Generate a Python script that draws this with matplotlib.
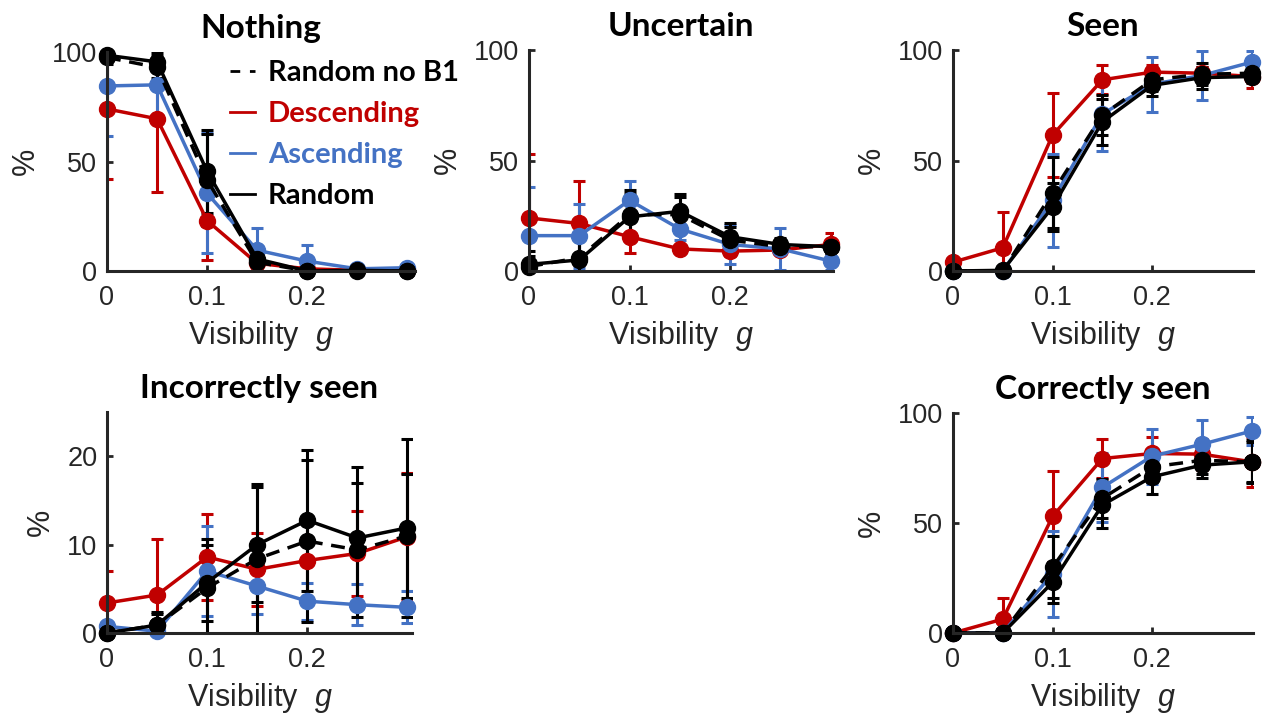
import numpy as np
import matplotlib
matplotlib.use("Agg")
import matplotlib.pyplot as plt
from matplotlib.lines import Line2D

plt.rcParams['font.family'] = ['Liberation Sans', 'DejaVu Sans']
plt.rcParams['mathtext.fontset'] = 'custom'
plt.rcParams['mathtext.it'] = 'Liberation Sans:italic'
plt.rcParams['mathtext.rm'] = 'Liberation Sans'

vis = [0, 0.05, 0.1, 0.15, 0.2, 0.25, 0.3]

# Nothing
nothing_desc = [74, 69.5, 23, 3.5, 1, 0.3, 0.3]
nothing_desc_err = [32, 33.5, 18, 2, 1, 0.5, 0.5]
nothing_asc = [84.5, 85, 35.5, 9.5, 4.5, 1, 1.5]
nothing_asc_err = [23, 16, 27.5, 10, 7.5, 1, 1]
nothing_rand = [98.5, 95.5, 45.5, 5.5, 0, 0.3, 0]
nothing_rand_err = [2.5, 4, 19, 3, 0.5, 0.5, 0]
nothing_nob1 = [97.5, 93, 41.5, 4, 0, 0, 0]
nothing_nob1_err = [3, 5, 21, 3, 0.5, 0.3, 0]

# Uncertain
uncert_desc = [24, 21.5, 15.5, 10, 9, 9.5, 12]
uncert_desc_err = [29, 19, 7.5, 1.5, 2, 2, 5]
uncert_asc = [16, 16, 32, 19, 12, 10, 4.5]
uncert_asc_err = [22, 14.5, 8.5, 5, 9, 9.5, 4]
uncert_rand = [3, 5, 24.5, 27, 15.5, 12, 11]
uncert_rand_err = [6, 10, 11, 8, 6, 3, 3]
uncert_nob1 = [2, 6, 25.5, 25.5, 14, 11, 11]
uncert_nob1_err = [5, 9, 11, 8, 6, 3, 3]

# Seen
seen_desc = [4, 10.5, 61.5, 86.5, 90, 89.5, 88]
seen_desc_err = [2, 16, 19, 6.5, 3, 3, 5]
seen_asc = [0, 0, 32, 71, 84.5, 88.5, 94.5]
seen_asc_err = [0, 0, 21, 16.5, 12.5, 11, 5]
seen_rand = [0, 0.3, 29, 67.5, 84, 87.5, 88]
seen_rand_err = [0, 0.5, 11, 10.5, 5, 5, 3]
seen_nob1 = [0, 0, 35.5, 70.5, 86.5, 89, 89.5]
seen_nob1_err = [0, 0, 16, 9, 5, 5, 3]

# Incorrectly seen
incor_desc = [3.4, 4.3, 8.6, 7.2, 8.2, 9.0, 10.9]
incor_desc_err = [3.6, 6.3, 4.9, 4.1, 4.4, 4.8, 7.2]
incor_asc = [0.75, 0.2, 7.0, 5.3, 3.6, 3.2, 2.9]
incor_asc_err = [0.5, 0.3, 5.1, 3.1, 2.1, 2.3, 1.8]
incor_rand = [0, 0.9, 5.7, 10, 12.75, 10.75, 11.9]
incor_rand_err = [0, 1.5, 4.3, 6.5, 8, 8, 10.1]
incor_nob1 = [0, 0.9, 5.1, 8.4, 10.4, 9.4, 11]
incor_nob1_err = [0, 1.2, 5.5, 8.5, 9.2, 7.6, 7]

# Correctly seen
cor_desc = [0, 6.3, 53, 79.3, 81.6, 81.3, 77.8]
cor_desc_err = [0, 9.6, 20.8, 9, 7.5, 7, 11.3]
cor_asc = [0, 0, 27, 66.2, 80.4, 85.8, 91.8]
cor_asc_err = [0, 0, 19.5, 15.6, 12.5, 11, 6.4]
cor_rand = [0, 0, 23, 58.2, 71, 76.3, 77.8]
cor_rand_err = [0, 0, 9.4, 10.6, 7.6, 6, 9.8]
cor_nob1 = [0, 0, 29.9, 61.2, 75.5, 78.5, 77.8]
cor_nob1_err = [0, 0, 14, 9, 7, 6, 9]

RED = '#C00000'
BLUE = '#4472C4'
BLK = '#000000'
AX_COL = '#262626'
TITLE_FONT = 'Lato'

W, H = 1263, 721
fig = plt.figure(figsize=(W / 100, H / 100), dpi=100)


def add_ax(x0, x1, y0, y1):
    # pixel box -> figure fraction
    return fig.add_axes([x0 / W, 1 - y1 / H, (x1 - x0) / W, (y1 - y0) / H])


def draw(ax, title, series, ylim, yticks, xmax):
    for y, e, c, ls in series:
        cont = ax.errorbar(vis, y, yerr=e, color=c, ls=ls, lw=2.5, marker='o', ms=11.5,
                           elinewidth=2.2, capsize=4, capthick=2.2)
        cont.lines[0].set_clip_on(False)
        if ls != '-':
            cont.lines[0].set_dashes((4, 2.5))
    ax.set_xlim(0, xmax)
    ax.set_ylim(*ylim)
    ax.set_xticks([0, 0.1, 0.2])
    ax.set_xticklabels(['0', '0.1', '0.2'])
    ax.set_yticks(yticks)
    for s in ['top', 'right']:
        ax.spines[s].set_visible(False)
    for s in ['left', 'bottom']:
        ax.spines[s].set_color(AX_COL)
        ax.spines[s].set_linewidth(2.2)
    ax.tick_params(direction='in', length=4, width=2, colors=AX_COL, labelsize=19.5)
    ax.tick_params(axis='x', pad=10)
    ax.tick_params(axis='y', pad=7)
    ax.set_xlabel('Visibility  $g$', fontsize=22, color=AX_COL, labelpad=6)
    ax.set_ylabel('%', fontsize=22, color=AX_COL, labelpad=8)
    ax.set_title(title, fontsize=24, fontweight='bold', family=TITLE_FONT, pad=10)


ax1 = add_ax(107, 415, 52, 271)
draw(ax1, 'Nothing', [(nothing_desc, nothing_desc_err, RED, '-'),
                      (nothing_asc, nothing_asc_err, BLUE, '-'),
                      (nothing_rand, nothing_rand_err, BLK, '-'),
                      (nothing_nob1, nothing_nob1_err, BLK, '--')],
     (0, 100), [0, 50, 100], 0.3077)

ax2 = add_ax(529, 833, 50, 271)
draw(ax2, 'Uncertain', [(uncert_desc, uncert_desc_err, RED, '-'),
                        (uncert_asc, uncert_asc_err, BLUE, '-'),
                        (uncert_rand, uncert_rand_err, BLK, '-'),
                        (uncert_nob1, uncert_nob1_err, BLK, '--')],
     (0, 100), [0, 50, 100], 0.3023)

ax3 = add_ax(953, 1253, 50, 271)
draw(ax3, 'Seen', [(seen_desc, seen_desc_err, RED, '-'),
                   (seen_asc, seen_asc_err, BLUE, '-'),
                   (seen_rand, seen_rand_err, BLK, '-'),
                   (seen_nob1, seen_nob1_err, BLK, '--')],
     (0, 100), [0, 50, 100], 0.3013)

ax4 = add_ax(107, 412, 412, 633)
draw(ax4, 'Incorrectly seen', [(incor_desc, incor_desc_err, RED, '-'),
                               (incor_asc, incor_asc_err, BLUE, '-'),
                               (incor_rand, incor_rand_err, BLK, '-'),
                               (incor_nob1, incor_nob1_err, BLK, '--')],
     (0, 25), [0, 10, 20], 0.3045)

ax5 = add_ax(953, 1253, 413, 633)
draw(ax5, 'Correctly seen', [(cor_desc, cor_desc_err, RED, '-'),
                             (cor_asc, cor_asc_err, BLUE, '-'),
                             (cor_rand, cor_rand_err, BLK, '-'),
                             (cor_nob1, cor_nob1_err, BLK, '--')],
     (0, 100), [0, 50, 100], 0.3013)

handles = [Line2D([], [], color=BLK, lw=2, dashes=(3.5, 3.5)),
           Line2D([], [], color=RED, lw=2),
           Line2D([], [], color=BLUE, lw=2),
           Line2D([], [], color=BLK, lw=2)]
labels = ['Random no B1', 'Descending', 'Ascending', 'Random']
leg = ax1.legend(handles, labels, loc='upper left', bbox_to_anchor=(230 / W, 1 - 60 / H),
                 bbox_transform=fig.transFigure, frameon=False, borderpad=0, borderaxespad=0,
                 handlelength=0.85, handletextpad=0.45, labelspacing=0.52,
                 labelcolor='linecolor', prop={'family': TITLE_FONT, 'weight': 'bold', 'size': 21})

fig.savefig('out.png', dpi=100)
